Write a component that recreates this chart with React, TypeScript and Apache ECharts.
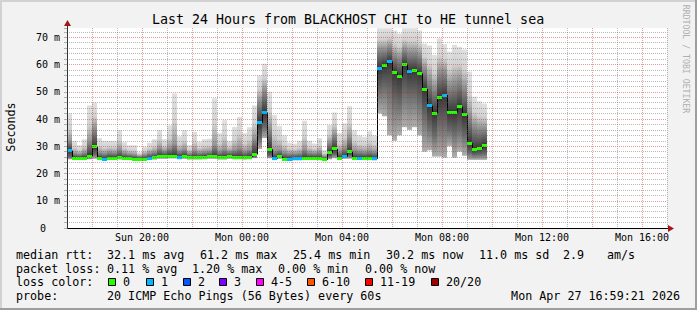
import React, { useEffect, useRef } from 'react';
import * as echarts from 'echarts';

const MONO = '"DejaVu Sans Mono", "Liberation Mono", monospace';

// time axis in hours since Sunday 00:00; one column = 12 minutes
const T0 = 17;
const STEP = 0.2;

const xTickLabels: Record<number, string> = {
  20: 'Sun 20:00',
  24: 'Mon 00:00',
  28: 'Mon 04:00',
  32: 'Mon 08:00',
  36: 'Mon 12:00',
  40: 'Mon 16:00',
};

// median RTT per 12-minute column (ms)
const medianRtt = [
  28.4, 25.6, 25.6, 25.6, 26.4, 29.8, 25.6, 25.3, 25.6, 25.6,
  25.8, 25.6, 25.6, 25.2, 25.2, 25.2, 25.6, 25.8, 26.2, 26.2,
  26.4, 26.4, 26.0, 26.2, 25.8, 25.8, 25.8, 26.0, 26.2, 26.2,
  25.8, 25.8, 26.2, 26.0, 26.0, 25.8, 26.0, 27.0, 38.6, 42.4,
  28.9, 25.5, 26.2, 25.3, 25.3, 25.4, 25.4, 25.6, 25.6, 25.6,
  25.5, 25.0, 27.6, 29.0, 25.6, 26.2, 28.0, 25.6, 25.6, 25.6,
  25.6, 25.4, 58.6, 59.6, 61.1, 57.1, 55.5, 60.0, 57.6, 57.7,
  56.7, 51.0, 44.8, 42.1, 48.0, 48.8, 42.5, 42.4, 44.5, 41.5,
  31.1, 28.9, 29.2, 30.2,
];

// lowest ping per column (ms)
const minRtt = [
  25.2, 25.0, 25.0, 25.0, 25.2, 25.4, 25.0, 24.7, 25.0, 25.0,
  25.1, 25.0, 25.0, 24.7, 24.7, 24.7, 25.0, 25.1, 25.4, 25.4,
  25.5, 25.5, 25.2, 25.4, 25.1, 25.1, 25.1, 25.2, 25.4, 25.4,
  25.1, 25.1, 25.4, 25.2, 25.2, 25.1, 25.2, 25.6, 29.0, 33.0,
  25.6, 24.9, 25.4, 24.8, 24.8, 24.8, 24.8, 25.0, 25.0, 25.0,
  24.9, 24.5, 25.2, 25.6, 25.0, 25.4, 25.4, 25.0, 25.0, 25.0,
  25.0, 24.8, 42.0, 41.0, 34.0, 32.0, 34.0, 37.0, 36.0, 37.0,
  34.0, 28.0, 28.5, 26.2, 26.2, 25.8, 30.0, 25.8, 28.0, 26.5,
  25.0, 25.0, 25.0, 25.0,
];

// lower quartile per column (ms)
const lowerRtt = [
  26.0, 25.3, 25.3, 25.3, 25.8, 27.0, 25.3, 25.0, 25.3, 25.3,
  25.4, 25.3, 25.3, 25.0, 25.0, 25.0, 25.3, 25.5, 25.8, 25.8,
  25.9, 25.9, 25.6, 25.8, 25.5, 25.5, 25.5, 25.6, 25.8, 25.8,
  25.5, 25.5, 25.8, 25.6, 25.6, 25.5, 25.6, 26.2, 33.0, 37.0,
  26.5, 25.2, 25.8, 25.0, 25.0, 25.1, 25.1, 25.3, 25.3, 25.3,
  25.2, 24.8, 26.2, 27.0, 25.3, 25.9, 26.5, 25.3, 25.3, 25.3,
  25.3, 25.1, 51.0, 52.0, 51.0, 47.0, 46.0, 50.0, 49.0, 49.0,
  47.0, 41.0, 37.0, 34.0, 38.0, 38.0, 36.0, 35.0, 36.0, 34.0,
  27.5, 26.8, 27.0, 27.2,
];

// upper quartile per column (ms)
const upperRtt = [
  32.0, 27.5, 27.2, 27.8, 32.0, 37.0, 27.8, 27.5, 28.0, 27.8,
  29.0, 27.6, 27.2, 27.0, 26.5, 27.0, 27.6, 28.0, 29.5, 28.4,
  29.5, 31.0, 28.4, 29.0, 27.5, 28.5, 27.8, 28.0, 28.2, 30.5,
  28.2, 29.0, 28.2, 28.8, 29.5, 28.2, 28.8, 33.0, 47.0, 51.0,
  37.0, 28.5, 28.8, 27.8, 27.4, 27.4, 27.6, 29.0, 27.8, 27.6,
  28.0, 26.4, 31.5, 34.5, 28.2, 29.5, 33.5, 28.6, 28.2, 28.0,
  28.4, 28.0, 66.0, 66.0, 67.0, 64.0, 63.0, 66.0, 65.0, 65.0,
  64.0, 59.0, 55.0, 52.0, 58.0, 58.0, 53.0, 54.0, 55.0, 52.0,
  42.0, 38.0, 37.0, 37.0,
];

// highest ping per column (ms)
const maxRtt = [
  42.0, 32.0, 30.4, 32.6, 45.0, 46.0, 33.0, 32.0, 32.0, 32.0,
  36.0, 31.5, 30.4, 30.4, 27.8, 29.8, 31.3, 32.6, 36.0, 32.6,
  37.7, 49.4, 33.7, 35.9, 30.4, 35.3, 31.6, 32.6, 32.8, 47.6,
  34.8, 39.6, 32.0, 37.1, 40.8, 34.8, 37.0, 45.0, 56.0, 60.3,
  50.0, 41.5, 37.5, 34.0, 31.3, 31.0, 32.0, 39.4, 32.0, 31.0,
  33.0, 28.6, 37.8, 42.4, 34.8, 38.4, 44.7, 35.9, 34.0, 33.5,
  35.5, 34.0, 73.3, 73.3, 73.3, 72.5, 71.4, 73.3, 73.3, 73.3,
  72.5, 67.7, 67.0, 63.5, 69.6, 67.5, 64.7, 67.2, 66.5, 65.5,
  57.4, 48.2, 46.5, 45.7,
];

// lost pings per column (of 20)
const lossCount = [
  1, 0, 0, 0, 0, 0, 0, 1, 0, 0,
  0, 0, 0, 0, 0, 0, 1, 0, 0, 0,
  0, 0, 1, 0, 0, 0, 0, 0, 0, 0,
  0, 0, 0, 0, 0, 0, 0, 0, 1, 1,
  0, 1, 0, 0, 1, 1, 1, 0, 0, 0,
  0, 0, 0, 0, 0, 1, 0, 0, 1, 0,
  0, 1, 1, 0, 1, 0, 0, 0, 1, 0,
  0, 0, 1, 0, 0, 1, 0, 0, 0, 0,
  0, 0, 0, 0,
];

const lossLabels = ['0', '1', '2', '3', '4-5', '6-10', '11-19', '20/20'];
const lossColors = ['#26ff00', '#00b8ff', '#0059ff', '#7e00ff', '#ff00ff', '#ff5500', '#ff0000', '#a10000'];
const lossLegendX = [108, 146, 183, 219, 256, 307, 365, 431];

const lossColorFor = (n: number) => {
  if (n <= 3) return lossColors[n];
  if (n <= 5) return lossColors[4];
  if (n <= 10) return lossColors[5];
  if (n <= 19) return lossColors[6];
  return lossColors[7];
};

const statsRtt = [
  { t: 'median rtt:', x: 16 },
  { t: '32.1 ms avg', x: 107 },
  { t: '61.2 ms max', x: 200 },
  { t: '25.4 ms min', x: 293 },
  { t: '30.2 ms now', x: 386 },
  { t: '11.0 ms sd', x: 479 },
  { t: '2.9', x: 563 },
  { t: 'am/s', x: 607 },
];
const statsLoss = [
  { t: 'packet loss:', x: 16 },
  { t: '0.11 % avg', x: 107 },
  { t: '1.20 % max', x: 192 },
  { t: '0.00 % min', x: 278 },
  { t: '0.00 % now', x: 365 },
];

const GRID_MINOR = 'rgba(90, 90, 90, 0.42)';
const GRID_MAJOR = 'rgba(200, 20, 20, 0.42)';

const renderItem = (params: any, api: any) => {
  const i = params.dataIndex;
  const xa = T0 + i * STEP;
  const xb = xa + STEP;
  const pTop = api.coord([xa, maxRtt[i]]);
  const pBot = api.coord([xb, minRtt[i]]);
  const span = maxRtt[i] - minRtt[i];
  const f = (v: number) => Math.min(1, Math.max(0, (maxRtt[i] - v) / span));
  const fq3 = f(upperRtt[i]);
  const fill = new echarts.graphic.LinearGradient(0, 0, 0, 1, [
    { offset: 0, color: '#e0e0e0' },
    { offset: fq3 * 0.55, color: '#d2d2d2' },
    { offset: fq3, color: '#969696' },
    { offset: f(medianRtt[i]), color: '#363636' },
    { offset: f(lowerRtt[i]), color: '#6a6a6a' },
    { offset: 1, color: '#b0b0b0' },
  ]);
  const xl = Math.round(pTop[0]);
  const xr = Math.round(pBot[0]);
  const pm = api.coord([xa, medianRtt[i]]);
  const children: any[] = [
    {
      type: 'rect',
      shape: { x: xl, y: pTop[1], width: xr - xl, height: pBot[1] - pTop[1] },
      style: { fill },
    },
  ];
  if (i > 0) {
    const pp = api.coord([xa, medianRtt[i - 1]]);
    children.push({
      type: 'line',
      shape: { x1: xl + 0.5, y1: pp[1], x2: xl + 0.5, y2: pm[1] },
      style: { stroke: '#000', lineWidth: 1 },
    });
  }
  children.push({
    type: 'rect',
    shape: { x: xl, y: Math.round(pm[1] - 1.5), width: xr - xl, height: 3 },
    style: { fill: lossColorFor(lossCount[i]) },
  });
  return { type: 'group', children };
};

const txt = (text: string, x: number, y: number, extra: any = {}) => ({
  type: 'text',
  x,
  y,
  z: 100,
  style: {
    text,
    fill: '#000',
    fontFamily: MONO,
    fontSize: 11.7,
    align: 'left',
    verticalAlign: 'middle',
    ...extra,
  },
});

export default function App() {
  const ref = useRef<HTMLDivElement>(null);
  useEffect(() => {
    const chart = echarts.init(ref.current!, null, { renderer: 'svg' });
    const graphic: any[] = [
      // frame
      { type: 'rect', z: 100, shape: { x: 0, y: 0, width: 697, height: 2 }, style: { fill: '#d2d2d2' } },
      { type: 'rect', z: 100, shape: { x: 0, y: 0, width: 2, height: 310 }, style: { fill: '#d2d2d2' } },
      { type: 'rect', z: 100, shape: { x: 0, y: 308, width: 697, height: 2 }, style: { fill: '#9e9e9e' } },
      { type: 'rect', z: 100, shape: { x: 695, y: 0, width: 2, height: 310 }, style: { fill: '#9e9e9e' } },
      // axes
      { type: 'line', z: 100, shape: { x1: 67, y1: 228.5, x2: 670, y2: 228.5 }, style: { stroke: '#000', lineWidth: 1 } },
      { type: 'line', z: 100, shape: { x1: 67.5, y1: 229, x2: 67.5, y2: 24 }, style: { stroke: '#333', lineWidth: 1 } },
      { type: 'polygon', z: 101, shape: { points: [[668, 225], [674, 228.5], [668, 232]] }, style: { fill: '#a01818' } },
      { type: 'polygon', z: 101, shape: { points: [[64, 26], [67.5, 20], [71, 26]] }, style: { fill: '#a01818' } },
      // title & labels
      txt('Last 24 Hours from BLACKHOST CHI to HE tunnel sea', 348, 19, { fontSize: 13.3, align: 'center' }),
      { ...txt('Seconds', 11, 127, { align: 'center' }), rotation: Math.PI / 2 },
      { ...txt('RRDTOOL / TOBI OETIKER', 686, 59, { align: 'center', fontSize: 8.2, fill: '#b0b0b0' }), rotation: -Math.PI / 2 },
      ...statsRtt.map((s) => txt(s.t, s.x, 254.5)),
      ...statsLoss.map((s) => txt(s.t, s.x, 268.5)),
      txt('loss color:', 16, 282),
      ...lossLabels.flatMap((lab, k) => [
        {
          type: 'rect',
          z: 100,
          shape: { x: lossLegendX[k] + 0.5, y: 278.5, width: 7, height: 7 },
          style: { fill: lossColors[k], stroke: '#000', lineWidth: 1 },
        },
        txt(lab, lossLegendX[k] + 15, 282),
      ]),
      txt('probe:', 16, 296),
      txt('20 ICMP Echo Pings (56 Bytes) every 60s', 107, 296),
      txt('Mon Apr 27 16:59:21 2026', 680, 296, { align: 'right' }),
    ];

    chart.setOption({
      animation: false,
      backgroundColor: '#f2f2f2',
      textStyle: { fontFamily: MONO },
      grid: {
        left: 67,
        top: 28,
        width: 600,
        height: 200,
        show: true,
        backgroundColor: '#ffffff',
        borderWidth: 0,
      },
      xAxis: {
        type: 'value',
        z: 5,
        min: 17,
        max: 41,
        interval: 1,
        axisLine: { show: false },
        axisTick: { show: false },
        axisLabel: {
          fontFamily: MONO,
          fontSize: 10,
          color: '#000',
          margin: 4,
          showMinLabel: true,
          showMaxLabel: true,
          formatter: (v: number) => xTickLabels[Math.round(v)] && Math.abs(v - Math.round(v)) < 1e-6 ? xTickLabels[Math.round(v)] : '',
        },
        splitLine: {
          show: true,
          lineStyle: { color: [GRID_MINOR, GRID_MAJOR], type: [1, 1], width: 1 },
        },
      },
      yAxis: {
        type: 'value',
        z: 5,
        min: 0,
        max: 73.4,
        interval: 2,
        axisLine: { show: false },
        axisTick: { show: true, length: 3, lineStyle: { color: '#b0b0b0' } },
        axisLabel: {
          fontFamily: MONO,
          fontSize: 10,
          color: '#000',
          margin: 7,
          formatter: (v: number) => {
            const r = Math.round(v);
            if (Math.abs(v - r) > 1e-6 || r % 10 !== 0) return '';
            return r === 0 ? '{z|0}' : `${r} m`;
          },
          rich: { z: { fontFamily: MONO, fontSize: 10, color: '#000', padding: [0, 14, 0, 0] } },
        },
        splitLine: {
          show: true,
          showMaxLine: false,
          lineStyle: {
            color: [GRID_MAJOR, GRID_MINOR, GRID_MINOR, GRID_MINOR, GRID_MINOR],
            type: [1, 1],
            width: 1,
          },
        },
      },
      series: [
        {
          type: 'custom',
          z: 2,
          clip: true,
          renderItem,
          encode: { x: 0, y: 1 },
          data: medianRtt.map((m, i) => [T0 + i * STEP, m]),
        },
      ],
      graphic,
    });
    return () => chart.dispose();
  }, []);
  return <div ref={ref} style={{ position: 'fixed', left: 0, top: 0, width: 697, height: 310 }} />;
}
